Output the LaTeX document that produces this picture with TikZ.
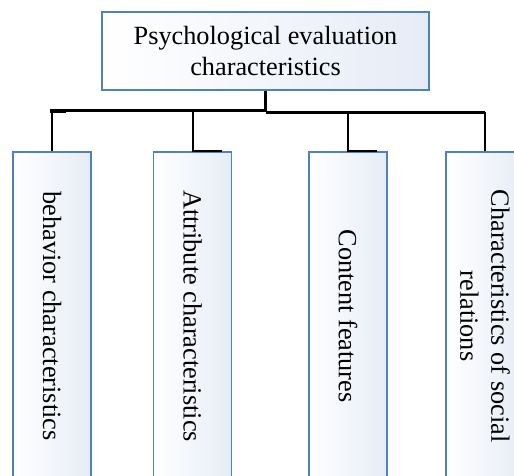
\documentclass[tikz,border=0pt]{standalone}
\usepackage{fontspec}
\setmainfont{Liberation Serif}
\definecolor{boxline}{HTML}{4F81BD}
\definecolor{boxfill}{HTML}{E6ECF6}
\begin{document}
\begin{tikzpicture}[x=1pt,y=-1pt,
  box/.style={draw=boxline, line width=1.5pt, left color=white, right color=boxfill, inner sep=0pt},
  topbox/.style={box, minimum width=327pt, minimum height=78pt},
  subbox/.style={box, minimum width=78pt, minimum height=328pt},
  lbl/.style={font=\fontsize{26.3}{31}\selectfont, align=center, inner sep=0pt},
  vlbl/.style={lbl, rotate=-90},
  conn/.style={draw=black, line width=2.4pt}]
\useasboundingbox (0,0) rectangle (514,476);
\clip (0,0) rectangle (514,476);
% top
\node[topbox] (top) at (265.5,51) {};
\node[lbl] (toplbl) at (top.center) {Psychological evaluation\\characteristics};
% sub boxes
\node[subbox] (b1) at (52,316) {};
\node[subbox] (b2) at (192.5,316) {};
\node[subbox] (b3) at (348,316) {};
\node[subbox] (b4) at (485,316) {};
\node[vlbl] (l1) at (b1.center) {behavior characteristics};
\node[vlbl] (l2) at (b2.center) {Attribute characteristics};
\node[vlbl] (l3) at (b3.center) {Content features};
\node[vlbl] (l4) at (b4.center) {Characteristics of social\\relations};
% connector coordinates
\coordinate (j) at (265.5,112.5);
\coordinate (bl) at (50,110.5);
\coordinate (s2) at (193,110.5);
\coordinate (s3) at (348,112.5);
\coordinate (s4) at (485,112.5);
% connectors
\draw[conn] (top.south) -- (j);
\draw[conn] (bl) -- (265.5,110.5);
\draw[conn] (j) -- (s4);
\draw[conn] (51.7,110.5) -- (51.7,0 |- b1.north);
\draw[line width=2.5pt] (50,112) -- (66,112);
\draw[conn] (s2) -- (193,0 |- b2.north) -- (222,0 |- b2.north);
\draw[conn] (s3) -- (s3 |- b3.north) -- (377,0 |- b3.north);
\draw[conn] (s4) -- (s4 |- b4.north);
\end{tikzpicture}
\end{document}
